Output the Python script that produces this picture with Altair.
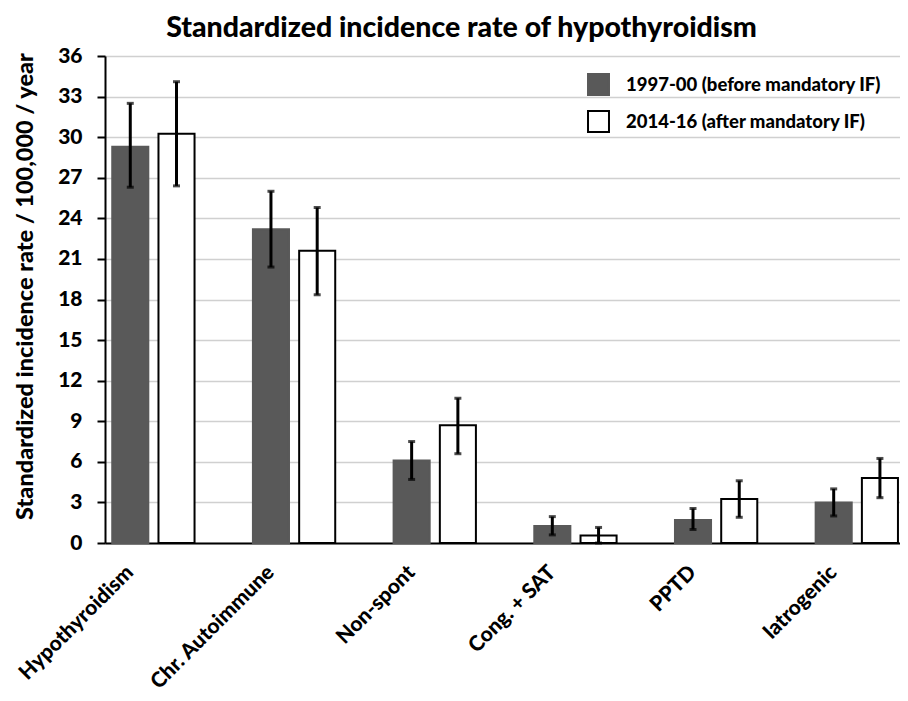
import altair as alt
import pandas as pd

categories = ["Hypothyroidism", "Chr. Autoimmune", "Non-spont", "Cong. + SAT", "PPTD", "Iatrogenic"]
periods = ["1997-00 (before mandatory IF)", "2014-16 (after mandatory IF)"]

before = [29.3, 23.2, 6.1, 1.25, 1.7, 3.0]
before_lo = [26.3, 20.4, 4.7, 0.6, 1.0, 2.0]
before_hi = [32.5, 26.0, 7.5, 1.95, 2.55, 4.0]

after = [30.25, 21.6, 8.7, 0.55, 3.25, 4.8]
after_lo = [26.4, 18.35, 6.6, 0.0, 1.9, 3.35]
after_hi = [34.1, 24.8, 10.7, 1.15, 4.6, 6.25]

y_ticks = [0, 3, 6, 9, 12, 15, 18, 21, 24, 27, 30, 33, 36]

rows = []
for i, c in enumerate(categories):
    rows.append({"category": c, "period": periods[0], "value": before[i], "lo": before_lo[i], "hi": before_hi[i]})
    rows.append({"category": c, "period": periods[1], "value": after[i], "lo": after_lo[i], "hi": after_hi[i]})
df = pd.DataFrame(rows)

FONT = "Lato"
W = 900

x_enc = alt.X(
    "category:N",
    sort=categories,
    scale=alt.Scale(paddingInner=0.415, paddingOuter=0.033, align=0.78),
    axis=alt.Axis(
        title=None,
        ticks=False,
        grid=False,
        domainColor="black",
        domainWidth=2,
        labelAngle=-45,
        labelAlign="right",
        labelBaseline="middle",
        labelFont=FONT,
        labelFontSize=21,
        labelFontWeight=W,
        labelColor="black",
        labelPadding=26,
        labelOffset=-23,
        labelLimit=0,
    ),
)
xoff_enc = alt.XOffset("period:N", sort=periods, scale=alt.Scale(paddingInner=0.22, paddingOuter=0))

y_scale = alt.Scale(domain=[0, 36], nice=False, zero=True)

legend = alt.Legend(
    title=None,
    orient="none",
    legendX=482,
    legendY=17,
    symbolType="square",
    symbolSize=440,
    symbolStrokeWidth=2,
    labelFont=FONT,
    labelFontSize=18.5,
    labelFontWeight=W,
    labelColor="black",
    labelOffset=16,
    labelLimit=0,
    rowPadding=8,
    padding=0,
)

base = alt.Chart(df)

bars = base.mark_bar(strokeWidth=2).encode(
    x=x_enc,
    xOffset=xoff_enc,
    y=alt.Y(
        "value:Q",
        scale=y_scale,
        axis=alt.Axis(
            values=y_ticks,
            title="Standardized incidence rate / 100,000 / year",
            titleFont=FONT,
            titleFontSize=23.5,
            titleFontWeight=W,
            titleColor="black",
            titleAngle=270,
            titleAlign="center",
            titleBaseline="alphabetic",
            titleX=-73,
            titleY=230,
            grid=True,
            gridColor="#d0d0d0",
            gridWidth=1.5,
            domainColor="black",
            domainWidth=2,
            tickColor="black",
            tickWidth=2,
            tickSize=8,
            labelFont=FONT,
            labelFontSize=21,
            labelFontWeight=W,
            labelColor="black",
            labelPadding=15,
        ),
    ),
    fill=alt.Fill("period:N", sort=periods, scale=alt.Scale(domain=periods, range=["#595959", "#ffffff"]), legend=legend),
    stroke=alt.Stroke("period:N", sort=periods, scale=alt.Scale(domain=periods, range=["#595959", "#000000"]), legend=legend),
)

rules = base.mark_rule(strokeWidth=3, color="black").encode(
    x=alt.X("category:N", sort=categories),
    xOffset=alt.XOffset("period:N", sort=periods),
    y=alt.Y("lo:Q"),
    y2="hi:Q",
)

caps_lo = base.mark_tick(orient="horizontal", size=7, thickness=3, color="black").encode(
    x=alt.X("category:N", sort=categories),
    xOffset=alt.XOffset("period:N", sort=periods),
    y=alt.Y("lo:Q"),
)
caps_hi = base.mark_tick(orient="horizontal", size=7, thickness=3, color="black").encode(
    x=alt.X("category:N", sort=categories),
    xOffset=alt.XOffset("period:N", sort=periods),
    y=alt.Y("hi:Q"),
)

chart = (
    alt.layer(bars, rules, caps_lo, caps_hi)
    .properties(
        width=795,
        height=487,
        title=alt.TitleParams(
            "Standardized incidence rate of hypothyroidism",
            font=FONT,
            fontSize=28.5,
            fontWeight=W,
            color="black",
            anchor="middle",
            dx=-41,
            offset=3,
        ),
        autosize=alt.AutoSizeParams(type="none"),
        padding={"left": 97, "top": 48, "right": 0, "bottom": 150},
    )
    .configure_view(stroke=None)
    .configure(background="white")
)

chart.save("out.html", embed_options={"renderer": "svg", "actions": False})
